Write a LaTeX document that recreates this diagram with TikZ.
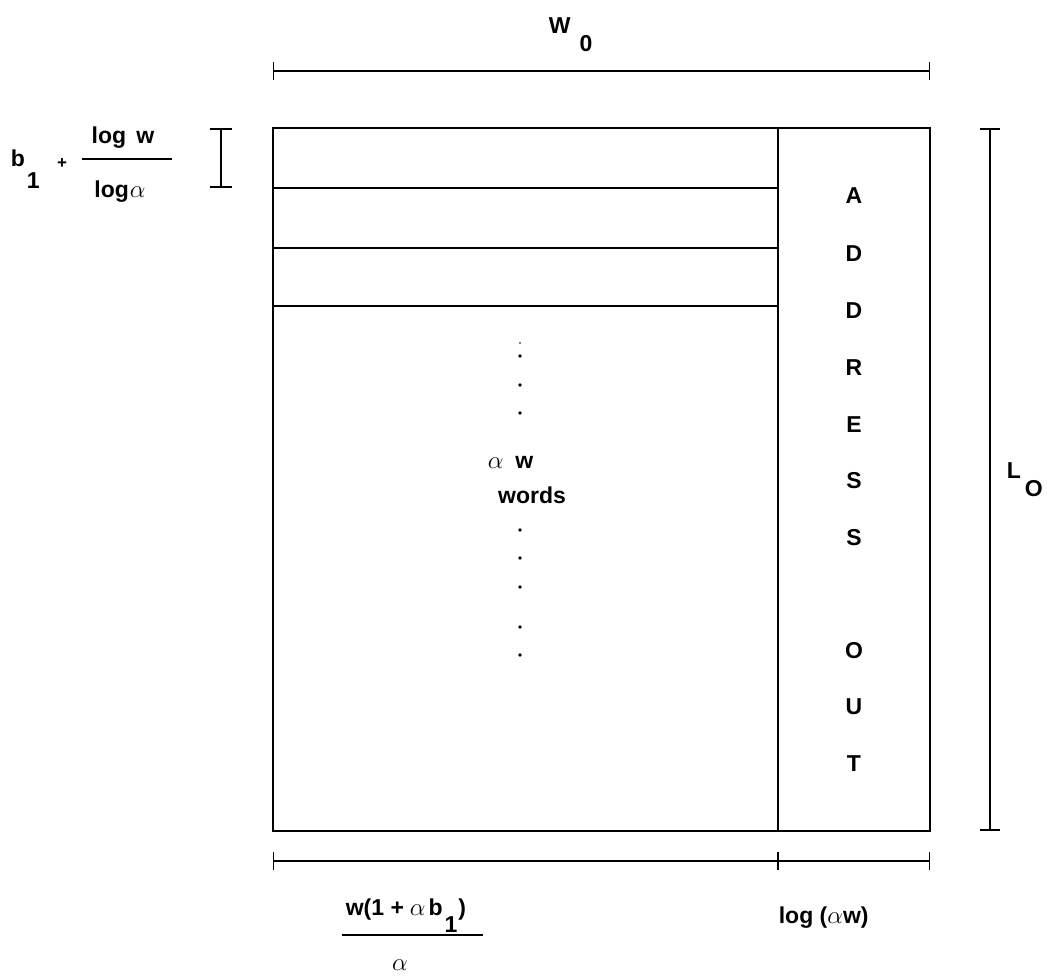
\documentclass[tikz,border=0pt]{standalone}
\usepackage{fontspec}
\setmainfont{Liberation Sans}
\usetikzlibrary{arrows.meta}
\begin{document}
\begin{tikzpicture}[x=1pt,y=-1pt,line width=1.6pt,
  lbl/.style={font=\fontsize{23}{27}\selectfont\bfseries,inner sep=0pt},
  dim/.style={line width=1.4pt,{Bar[width=18pt]}-{Bar[width=18pt]}},
  dot/.style={circle,fill,inner sep=0pt,minimum size=3.6pt}]
\useasboundingbox (0,0) rectangle (1048,977);
% main block
\coordinate (TL) at (273,128);
\coordinate (BR) at (930,831);
\coordinate (DT) at (778,128);
\coordinate (DB) at (778,831);
\draw (TL) rectangle (BR);
\draw (DT) -- (DB);
\foreach \y [count=\i] in {188,248,306}{
  \coordinate (rl\i) at (273,\y);
  \coordinate (rr\i) at (778,\y);
  \draw (rl\i) -- (rr\i);
}
% top dimension
\coordinate (tw1) at (273,71);
\coordinate (tw2) at (930,71);
\draw[dim] (tw1) -- (tw2);
\node[lbl,anchor=base west] (W0) at (548,33) {W\hspace{9pt}\raisebox{-18pt}{0}};
% left small bracket
\coordinate (lb1) at (221,128);
\coordinate (lb2) at (221,188);
\draw[line width=1.6pt,{Bar[width=22pt]}-{Bar[width=22pt]}] (lb1) -- (lb2);
\node[lbl,anchor=base west] (b1) at (10,166) {b\hspace{2pt}\raisebox{-22pt}{1}};
\node[lbl,anchor=center] (plus) at (62,164) {\fontsize{17}{19}\selectfont +};
\node[lbl,anchor=base] (num) at (123,143) {log\hspace{4pt} w};
\coordinate (fl1) at (82,159);
\coordinate (fl2) at (172,159);
\draw[line width=1.4pt] (fl1) -- (fl2);
\node[lbl,anchor=base] (den) at (120,197) {log\hspace{1pt}{\mdseries$\alpha$}};
% right bracket
\coordinate (rb1) at (990,128);
\coordinate (rb2) at (990,831);
\draw[line width=1.6pt,{Bar[width=20pt]}-{Bar[width=20pt]}] (rb1) -- (rb2);
\node[lbl,anchor=base west] (L0) at (1006,478) {L\hspace{4pt}\raisebox{-18pt}{O}};
% ADDRESS OUT
\foreach \l/\y [count=\i] in {A/196,D/254,D/311,R/368,E/425,S/481,S/538,O/651,U/707,T/764}{
  \node[lbl,anchor=center] (ad\i) at (854,\y) {\l};
}
% dots and words
\foreach \y [count=\i] in {356,385,413,530,558,587,627,655}{
  \node[dot] (d\i) at (520,\y) {};
}
\node[dot,minimum size=1.6pt] (d0) at (520,343) {};
\node[lbl,anchor=base west] (aw) at (487,468) {{\mdseries$\alpha$}\hspace{12pt}w};
\node[lbl,anchor=base] (words) at (532,503) {words};
% bottom dimension
\coordinate (bw1) at (273,861);
\coordinate (bw2) at (778,861);
\coordinate (bw3) at (930,861);
\draw[dim] (bw1) -- (bw2);
\draw[dim] (bw2) -- (bw3);
\node[lbl,anchor=base west] (wnum) at (345,915) {w(1 +\hspace{6pt}{\mdseries$\alpha$}\hspace{3pt}b\hspace{2pt}\raisebox{-17pt}{1}\hspace{1pt})};
\coordinate (bf1) at (342,935);
\coordinate (bf2) at (483,935);
\draw[line width=1.4pt] (bf1) -- (bf2);
\node[lbl,anchor=center] (wden) at (400,965) {\mdseries$\alpha$};
\node[lbl,anchor=base west] (logaw) at (778,923) {log ({\mdseries$\alpha$}w)};
\end{tikzpicture}
\end{document}
